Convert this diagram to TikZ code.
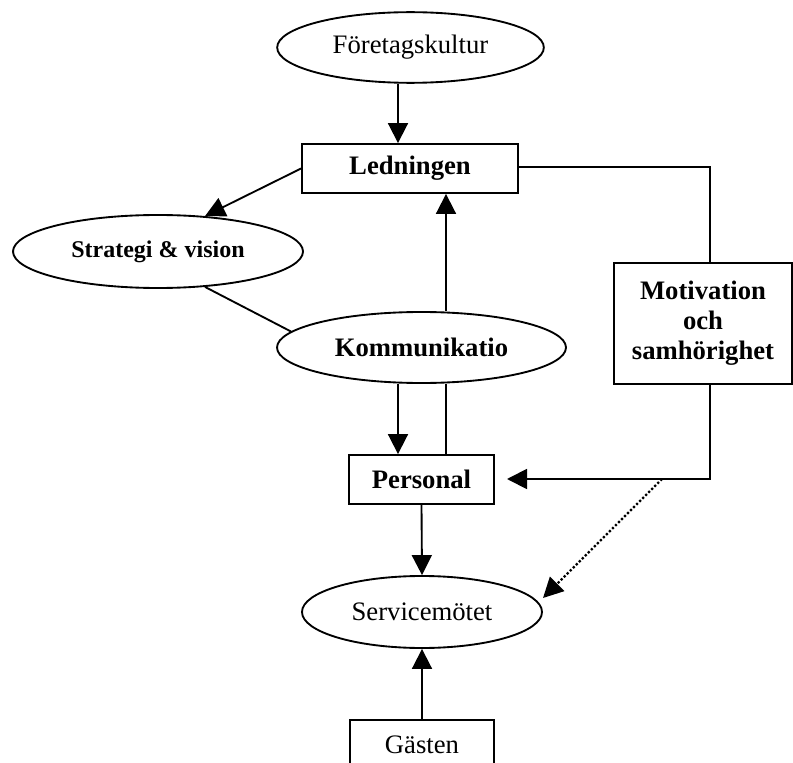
\documentclass[tikz,border=0pt]{standalone}
\usepackage{fontspec}
\setmainfont{Liberation Serif}
\usetikzlibrary{shapes.geometric,arrows.meta}
\tikzset{every node/.style={inner sep=0pt, line width=1.4pt, font=\fontsize{20}{23}\selectfont},
  ellnode/.style={ellipse,draw},
  boxnode/.style={rectangle,draw},
  pil/.style={-{Triangle[length=15pt,width=15pt]}},
  prickad/.style={line width=1.7pt,dash pattern=on 1.7pt off 1.5pt}}

\begin{document}
\begin{tikzpicture}[x=0.75pt,y=-0.75pt,line width=1.4pt]
    \clip (0,0) rectangle (793,763);
    \node[ellnode,minimum width=200pt,minimum height=53pt] (fk) at (410.5,47.5) {Företagskultur};
    \node[boxnode,minimum width=162pt,minimum height=36.75pt] (ledn) at (410,168.5) {\textbf{Ledningen}};
    \node[ellnode,minimum width=217.5pt,minimum height=54.75pt,font=\fontsize{18}{21}\selectfont\bfseries] (sv) at (158,251.5) {Strategi \& vision};
    \node[ellnode,minimum width=216.75pt,minimum height=53.25pt] (kom) at (421.5,347.5) {\textbf{Kommunikatio}};
    \node[boxnode,minimum width=133.5pt,minimum height=90.75pt,align=center,font=\fontsize{20}{22.5}\selectfont\bfseries] (mot) at (703,323.5) {Motivation\\och\\samhörighet};
    \node[boxnode,minimum width=108.75pt,minimum height=36.75pt] (pers) at (421.5,479.5) {\textbf{Personal}};
    \node[ellnode,minimum width=180pt,minimum height=54pt] (serv) at (422,612) {Servicemötet};
    \node[boxnode,minimum width=108pt,minimum height=36.75pt] (gast) at (422,744.5) {Gästen};

    % hjaelppunkter
    \coordinate (xa) at (398,0);
    \coordinate (xb) at (446,0);
    \coordinate (knut) at (710,479);
    \coordinate (pspets) at (507,479);
    \coordinate (dstart) at (662,479);
    \coordinate (dspets) at (543,598);

    \draw[pil] (fk.south -| xa) -- (ledn.north -| xa);
    \draw[pil] (ledn.west) -- (sv.37);
    \draw (sv.-37) -- (kom.173);
    \draw[pil] (kom.north -| xb) -- (ledn.south -| xb);
    \draw[pil] (kom.south -| xa) -- (pers.north -| xa);
    \draw (kom.south -| xb) -- (pers.north -| xb);
    \draw (ledn.east |- 0,167) -| (mot.north -| knut);
    \draw[pil] (mot.south -| knut) -- (knut) -- (pspets);
    \draw[pil,prickad] (dstart) -- (dspets);
    \draw[pil] (pers.south) -- (serv.north);
    \draw[pil] (gast.north) -- (serv.south);
\end{tikzpicture}
\end{document}
